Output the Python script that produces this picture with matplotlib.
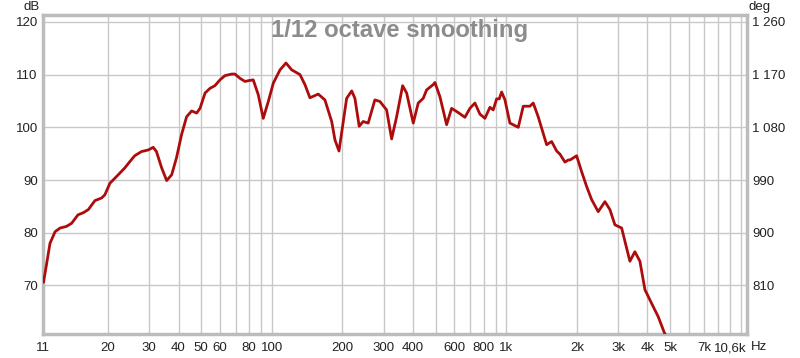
import matplotlib
matplotlib.use("Agg")
import matplotlib.pyplot as plt
from matplotlib.ticker import NullLocator

# ---- data ----
freq_hz = [10.62, 10.96, 11.32, 11.9, 12.5, 13.3, 14.0, 14.9, 15.7, 16.5, 17.6, 18.8, 19.4,
           20.4, 21.8, 23.6, 24.8, 26.0, 27.8, 29.7, 31.2, 32.2, 33.9, 35.6, 37.4, 39.2,
           41.2, 43.3, 45.5, 47.8, 49.4, 51.9, 54.5, 57.2, 60.1, 63.1, 67.4, 69.6, 73.1,
           76.8, 80.7, 83.3, 87.5, 91.9, 96.6, 101.5, 108.4, 114.9, 121.5, 131.8, 138.4,
           145.4, 157.7, 168.4, 180.0, 185.9, 193.4, 201.7, 208.5, 219.1, 226.1, 235.8,
           245.3, 257.6, 275.1, 289.0, 308.7, 324.3, 340.6, 361.3, 375.8, 401.0, 421.1,
           442.3, 457.3, 487.9, 496.1, 521.1, 556.5, 584.5, 623.6, 666.0, 699.5, 734.8,
           771.8, 810.7, 851.6, 879.7, 909.5, 933.1, 955.3, 986.8, 1036, 1125, 1181, 1261,
           1303, 1368, 1486, 1561, 1640, 1694, 1779, 1837, 1869, 1995, 2095, 2200, 2311,
           2466, 2634, 2766, 2906, 3104, 3366, 3535, 3714, 3902, 4231, 4444, 4716, 4850]
spl_db = [70.6, 74.2, 78.0, 80.2, 80.9, 81.2, 81.8, 83.4, 83.8, 84.4, 86.1, 86.6, 87.2,
          89.4, 90.7, 92.3, 93.5, 94.6, 95.4, 95.7, 96.2, 95.4, 92.3, 89.9, 91.0, 94.2,
          98.6, 102.0, 103.1, 102.7, 103.6, 106.5, 107.4, 107.9, 109.0, 109.8, 110.1, 110.1, 109.3,
          108.7, 108.9, 109.0, 106.2, 101.7, 104.9, 108.4, 110.9, 112.2, 110.9, 110.0, 108.1,
          105.6, 106.3, 105.2, 101.1, 97.6, 95.5, 101.1, 105.5, 106.9, 105.5, 100.2,
          101.1, 100.8, 105.2, 104.9, 103.3, 97.8, 102.0, 107.9, 106.5, 100.8, 104.6,
          105.5, 107.1, 108.1, 108.5, 105.8, 100.5, 103.6, 102.8, 101.9, 103.6, 104.6,
          102.5, 101.7, 103.8, 103.3, 105.4, 105.4, 106.7, 105.2, 100.8, 100.0, 104.0, 104.0,
          104.6, 102.0, 96.7, 97.3, 95.5, 94.9, 93.4, 93.8, 93.8, 94.6, 91.6, 88.8, 86.3,
          84.0, 85.9, 84.4, 81.5, 80.9, 74.6, 76.4, 74.6, 69.2, 66.0, 64.1, 61.1, 60.0]

x_tick_values = [10.6, 20, 30, 40, 50, 60, 80, 100, 200, 300, 400, 600, 800, 1000,
                 2000, 3000, 4000, 5000, 7000, 10600]
x_tick_labels = ["11", "20", "30", "40", "50", "60", "80", "100", "200", "300", "400",
                 "600", "800", "1k", "2k", "3k", "4k", "5k", "7k", "10,6k"]
y_tick_values = [70, 80, 90, 100, 110, 120]
deg_tick_values = [810, 900, 990, 1080, 1170, 1260]
deg_tick_labels = ["810", "900", "990", "1 080", "1 170", "1 260"]

x_min, x_max = 10.6, 10600
y_min, y_max = 60.8, 121.3

# ---- figure ----
plt.rcParams['font.family'] = ['Liberation Sans', 'DejaVu Sans']
fig = plt.figure(figsize=(8.0, 3.58), dpi=100)
ax = fig.add_axes([43.3 / 800, 1 - 334 / 358, (746.7 - 43.3) / 800, (334 - 15) / 358])

ax.set_xscale('log')
ax.set_xlim(x_min, x_max)
ax.set_ylim(y_min, y_max)

# grid: every 1..9 multiple per decade
grid_x = [m * 10 ** d for d in range(1, 5) for m in range(1, 10)]
grid_x = [g for g in grid_x if x_min < g < x_max]
for g in grid_x:
    ax.axvline(g, color='#c8c8c8', lw=1.0, zorder=1)
for yv in y_tick_values:
    ax.axhline(yv, color='#c8c8c8', lw=1.0, zorder=1)

ax.plot(freq_hz, spl_db, color='#ad0c0c', lw=2.0, zorder=3,
        solid_joinstyle='round', solid_capstyle='round')

ax.xaxis.set_minor_locator(NullLocator())
ax.set_xticks(x_tick_values)
ax.set_xticklabels(x_tick_labels)
ax.set_yticks(y_tick_values)
ax.set_yticklabels([str(v) for v in y_tick_values])
ax.tick_params(axis='both', length=0, labelsize=9.5, colors='#222222')
ax.tick_params(axis='x', pad=6)
ax.tick_params(axis='y', pad=4)
xl = ax.get_xticklabels()
xl[-1].set_horizontalalignment('right')

for s in ax.spines.values():
    s.set_color('#bcbcbc')
    s.set_linewidth(2.5)

ax2 = ax.twinx()
ax2.set_ylim(9 * y_min + 180, 9 * y_max + 180)
ax2.set_yticks(deg_tick_values)
ax2.set_yticklabels(deg_tick_labels)
ax2.tick_params(axis='y', length=0, labelsize=9.5, colors='#222222', pad=4)
for s in ax2.spines.values():
    s.set_visible(False)

fig.text(32 / 800, 1 - 7 / 358, "dB", fontsize=9.5, color='#222222', ha='center', va='center')
fig.text(760 / 800, 1 - 7 / 358, "deg", fontsize=9.5, color='#222222', ha='center', va='center')
fig.text(759 / 800, 1 - 347 / 358, "Hz", fontsize=9.5, color='#222222', ha='center', va='center')

fig.text(400 / 800, 1 - 31 / 358, "1/12 octave smoothing", fontsize=17.2, fontweight='bold',
         color='#8c8c8c', ha='center', va='center')

fig.savefig("out.png", dpi=100)
